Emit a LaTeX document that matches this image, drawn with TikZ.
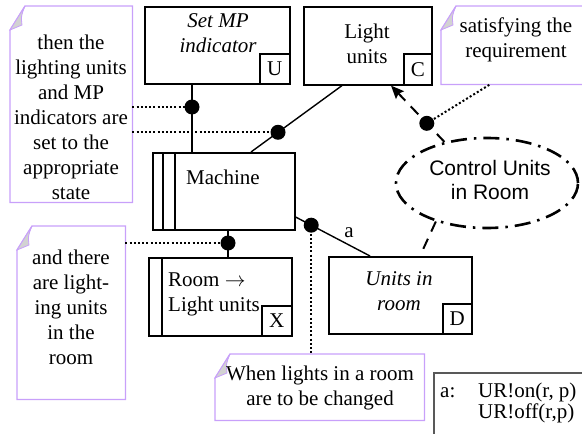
\documentclass[tikz,border=0pt]{standalone}
\usepackage{fontspec}
\setmainfont{Liberation Serif}
\newfontfamily\arialf{Liberation Sans}
\usetikzlibrary{arrows.meta,shapes.geometric,calc}
\definecolor{notecol}{RGB}{200,160,250}
\newcommand{\drawnote}[1]{%
  \draw[notecol, line width=1.3pt] ([yshift=-24pt]#1.north west) -- ([xshift=15pt]#1.north west) -- (#1.north east) -- (#1.south east) -- (#1.south west) -- cycle;
  \filldraw[notecol, fill=gray!35, line width=0.8pt] ([yshift=-24pt]#1.north west) -- ([xshift=15pt]#1.north west) .. controls ([xshift=11pt,yshift=-10pt]#1.north west) .. ([xshift=12pt,yshift=-19pt]#1.north west) -- cycle;
}
\begin{document}
\begin{tikzpicture}[x=1pt,y=-1pt,
  every node/.style={font=\fontsize{21}{25}\selectfont},
  blk/.style={draw, line width=1.6pt, inner sep=0pt, anchor=north west},
  tagbox/.style={draw, line width=1.6pt, inner sep=0pt, minimum width=30pt, minimum height=30pt, anchor=south east},
  notebox/.style={inner sep=0pt, anchor=north west},
  txt/.style={inner sep=0pt, align=center},
  conn/.style={line width=1.4pt},
  dotline/.style={line width=2pt, dash pattern=on 2pt off 2.2pt},
  dashln/.style={line width=2pt, dash pattern=on 11pt off 8pt},
  dashdot/.style={line width=2.6pt, dash pattern=on 16pt off 7pt on 2.5pt off 7pt},
  blob/.style={circle, fill=black, inner sep=0pt, minimum size=15pt}]
\useasboundingbox (0,0) rectangle (582,434);
\clip (0,0) rectangle (582,434);

% notes
\node[notebox, minimum width=122pt, minimum height=196pt] (n1) at (10,6) {};
\node[notebox, minimum width=150pt, minimum height=78pt] (n2) at (441,6) {};
\node[notebox, minimum width=108pt, minimum height=173pt] (n3) at (17,226) {};
\node[notebox, minimum width=209pt, minimum height=66pt] (n4) at (215,354) {};
\drawnote{n1}\drawnote{n2}\drawnote{n3}\drawnote{n4}
\node[txt] (n1t) at (71,117) {then the\\lighting units\\and MP\\indicators are\\set to the\\appropriate\\state};
\node[txt] (n2t) at (516,40) {satisfying the\\requirement};
\node[txt] (n3t) at (71,307) {and there\\are light-\\ing units\\in the\\room};
\node[txt] (n4t) at (320,387.5) {When lights in a room\\are to be changed};

% boxes
\node[blk, minimum width=145pt, minimum height=77pt] (setmp) at (144,6) {};
\node[tagbox] (setmpU) at (setmp.south east) {U};
\node[txt, font=\fontsize{21}{25}\selectfont\itshape] (setmpT) at (218,33.5) {Set MP\\indicator};

\node[blk, minimum width=128pt, minimum height=78pt] (light) at (303,6) {};
\node[tagbox, minimum width=28pt, minimum height=31pt] (lightC) at (light.south east) {C};
\node[txt] (lightT) at (367,43.5) {Light\\units};

\node[blk, minimum width=142pt, minimum height=77pt] (machine) at (152,152) {};
\draw[line width=1.6pt] ($(machine.north west)+(11,0)$) -- ($(machine.south west)+(11,0)$);
\draw[line width=1.6pt] ($(machine.north west)+(23,0)$) -- ($(machine.south west)+(23,0)$);
\node[inner sep=0pt, anchor=west] (machineT) at (186,177) {Machine};

\node[blk, minimum width=143pt, minimum height=78pt] (room) at (148,257) {};
\draw[line width=1.6pt] ($(room.north west)+(14,0)$) -- ($(room.south west)+(14,0)$);
\node[tagbox] (roomX) at (room.south east) {X};
\node[inner sep=0pt, anchor=west, align=left] (roomT) at (168,294.5) {Room $\rightarrow$\\Light units};

\node[blk, minimum width=143pt, minimum height=77pt] (units) at (328,256) {};
\node[tagbox, minimum width=29pt] (unitsD) at (units.south east) {D};
\node[txt, font=\fontsize{21}{25}\selectfont\itshape] (unitsT) at (399,291.5) {Units in\\room};

% ellipse
\node[ellipse, draw, dashdot, minimum width=182pt, minimum height=90pt, inner sep=0pt] (ctrl) at (487,183) {};
\node[txt, font=\fontsize{21}{24}\selectfont\arialf] (ctrlT) at (490,180) {Control Units\\in Room};

% connectors
\coordinate (d1) at (192,107);
\draw[conn] (d1 |- setmp.south) -- (d1 |- machine.north);
\draw[conn] ($(light.south west)+(39,0)$) -- coordinate[pos=0.703] (d2) ($(machine.north west)+(99,0)$);
\coordinate (d3) at (228,243);
\draw[conn] (d3 |- machine.south) -- (d3 |- room.north);
\draw[conn] ($(machine.north east)+(0,65)$) -- coordinate[pos=0.21] (d4) ($(units.north west)+(42,0)$);
\node[inner sep=0pt] (lblA) at (349,233) {a};
\draw[dashln, -{Stealth[length=13pt, width=11pt, inset=2pt]}] (ctrl.136) -- coordinate[pos=0.33] (d5) ($(light.south west)+(88,0)$);
\draw[dashln] (ctrl.217) -- ($(units.north west)+(92,0)$);

\draw[dotline] (n1.east |- d1) -- (d1);
\draw[dotline] (n1.east |- d2) -- (d2);
\draw[dotline] (n3.east |- d3) -- (d3);
\draw[dotline] (d4) -- (d4 |- n4.north);
\draw[dotline] (d5) -- ($(n2.south west)+(49,0)$);

\foreach \p in {d1,d2,d3,d4,d5} \node[blob] (b\p) at (\p) {};

% legend
\coordinate (legTR) at (600,373);
\coordinate (legBL) at (434,440);
\draw[line width=1.2pt, black!65] (legBL) -- (legBL |- legTR) -- (legTR);
\node[inner sep=0pt, anchor=base west] (legA) at (440,397) {a:};
\node[inner sep=0pt, anchor=base west] (legL1) at (478,397) {UR!on(r, p)};
\node[inner sep=0pt, anchor=base west] (legL2) at (478,418) {UR!off(r,p)};
\end{tikzpicture}
\end{document}
